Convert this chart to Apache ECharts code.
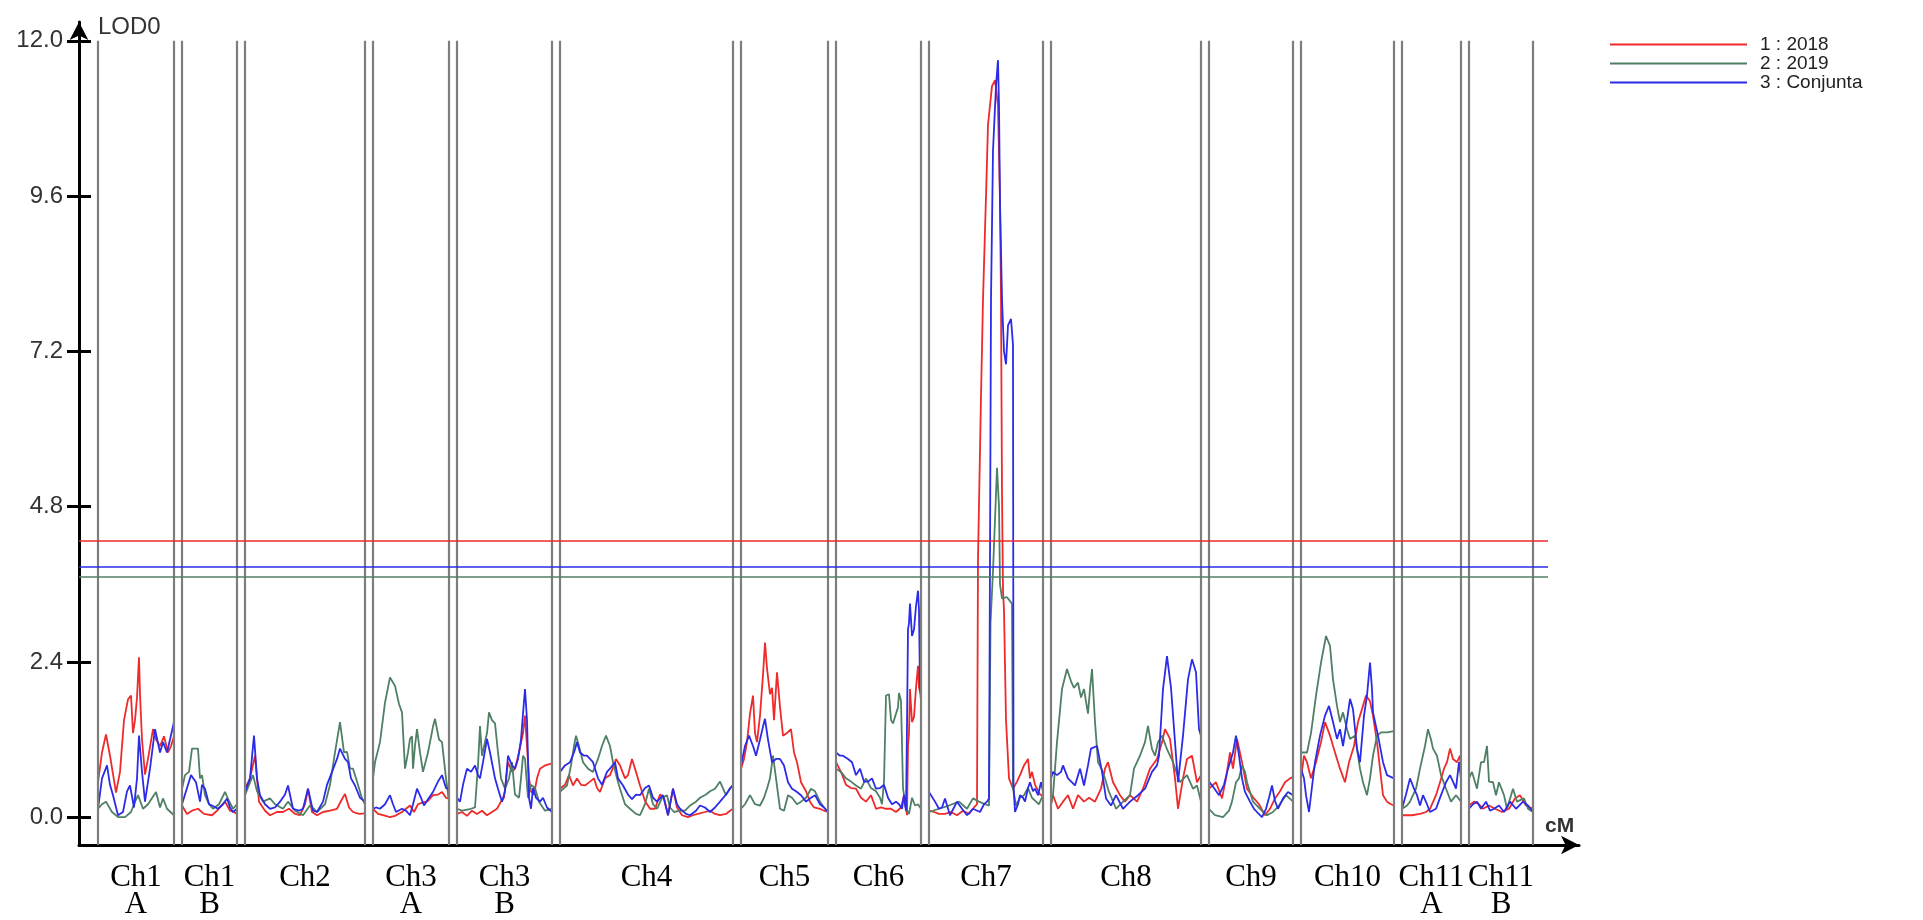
<!DOCTYPE html>
<html>
<head>
<meta charset="utf-8">
<script src="https://cdn.jsdelivr.net/npm/echarts@6/dist/echarts.min.js"></script>
<style>
  html, body { margin: 0; padding: 0; background: #fff; }
  #chart { width: 1923px; height: 920px; }
</style>
</head>
<body>
<div id="chart"></div>
<script>
// chromosomes (label, length in cM) laid out left to right with a small gap
var chrNames = ['Ch1\nA', 'Ch1\nB', 'Ch2', 'Ch3\nA', 'Ch3\nB', 'Ch4', 'Ch5', 'Ch6', 'Ch7', 'Ch8', 'Ch9', 'Ch10', 'Ch11\nA', 'Ch11\nB'];
var chrLengths = [76, 55, 120, 76, 95, 173, 87, 85, 114, 150, 84, 93, 59, 64];
var chrGap = 8;
var firstOffset = 19;

var yTicks = [0, 2.4, 4.8, 7.2, 9.6, 12.0];
var seriesNames = ['1 : 2018', '2 : 2019', '3 : Conjunta'];
var thresholds = [4.27, 3.71, 3.87];
var thresholdEnd = 1469;

// LOD profiles per chromosome, [cM within chromosome, LOD]
var lod2018 = [
    [[0,0.54],[4,1.0],[8,1.28],[12,0.95],[18,0.38],[22,0.7],[26,1.5],[30,1.82],[33,1.88],[35,1.3],[37,1.5],[39,1.85],[41,2.47],[42,1.9],[44,1.2],[47,0.66],[50,0.9],[55,1.36],[58,1.2],[62,1.1],[66,1.25],[70,1.0],[73,1.1],[76,1.25]],
    [[0,0.18],[5,0.05],[10,0.1],[16,0.13],[22,0.05],[30,0.03],[35,0.1],[43,0.24],[48,0.1],[52,0.08],[55,0.05]],
    [[0,0.44],[5,0.6],[10,0.95],[14,0.24],[20,0.1],[25,0.03],[32,0.08],[38,0.08],[44,0.13],[50,0.05],[55,0.03],[60,0.2],[63,0.44],[67,0.08],[72,0.03],[78,0.08],[85,0.1],[92,0.13],[96,0.25],[100,0.36],[104,0.15],[108,0.08],[114,0.05],[120,0.06]],
    [[0,0.13],[5,0.05],[10,0.03],[17,0],[22,0.02],[29,0.08],[37,0.18],[41,0.08],[45,0.2],[50,0.23],[55,0.25],[60,0.34],[65,0.35],[69,0.39],[73,0.3],[76,0.29]],
    [[0,0.05],[5,0.08],[10,0.02],[15,0.1],[20,0.05],[25,0.1],[30,0.03],[35,0.08],[40,0.13],[44,0.24],[47,0.3],[51,0.85],[55,0.7],[58,0.75],[62,1.0],[66,1.3],[68,1.57],[70,1.1],[72,0.6],[74,0.4],[77,0.35],[80,0.6],[83,0.75],[88,0.8],[95,0.83]],
    [[0,0.44],[5,0.5],[9,0.65],[13,0.49],[17,0.6],[21,0.5],[25,0.49],[30,0.55],[34,0.6],[37,0.45],[40,0.39],[45,0.6],[50,0.65],[54,0.8],[56,0.9],[60,0.8],[65,0.6],[68,0.65],[72,0.9],[76,0.7],[80,0.49],[85,0.25],[90,0.13],[95,0.13],[100,0.35],[104,0.3],[108,0.03],[113,0.44],[117,0.15],[122,0.03],[128,0.0],[133,0.03],[138,0.05],[145,0.08],[150,0.1],[155,0.05],[160,0.03],[166,0.05],[170,0.1],[173,0.13]],
    [[0,0.75],[3,0.9],[6,1.16],[9,1.6],[12,1.88],[14,1.3],[16,1.16],[19,1.57],[22,2.2],[24,2.7],[26,2.3],[29,1.9],[31,2.0],[33,1.5],[36,2.24],[39,1.7],[42,1.26],[46,1.3],[50,1.36],[53,1.0],[56,0.85],[60,0.54],[65,0.4],[69,0.24],[73,0.15],[79,0.13],[83,0.1],[87,0.08]],
    [[0,0.85],[5,0.7],[10,0.5],[15,0.45],[20,0.44],[25,0.3],[30,0.24],[35,0.34],[40,0.13],[45,0.15],[50,0.13],[55,0.13],[60,0.08],[65,0.15],[68,0.33],[71,0.03],[72,1.1],[73,1.3],[74,1.98],[76,1.47],[78,1.55],[80,2.0],[82,2.34],[83,2.0],[85,1.9]],
    [[0,0.1],[5,0.08],[10,0.05],[16,0.05],[22,0.08],[28,0.03],[34,0.1],[40,0.05],[45,0.15],[48,0.2],[49,4.0],[52,6.5],[54,8.0],[57,9.6],[59,10.7],[63,11.3],[66,11.39],[69,11.0],[71,9.5],[72,8.0],[73,5.0],[74,3.5],[75,3.2],[77,1.5],[80,0.6],[84,0.44],[88,0.55],[91,0.65],[95,0.8],[99,0.9],[101,0.6],[103,0.7],[106,0.5],[108,0.44],[111,0.35],[114,0.33]],
    [[0,0.2],[2,0.34],[7,0.13],[12,0.24],[17,0.34],[22,0.13],[27,0.34],[33,0.24],[38,0.3],[44,0.24],[50,0.44],[54,0.75],[57,0.85],[62,0.54],[69,0.34],[74,0.24],[79,0.34],[86,0.24],[92,0.44],[99,0.75],[106,0.9],[111,1.16],[114,1.36],[119,1.21],[124,0.6],[127,0.13],[132,0.6],[136,0.9],[141,0.95],[146,0.54],[150,0.65]],
    [[0,0.44],[7,0.54],[13,0.29],[17,0.6],[21,1.0],[24,0.75],[28,1.21],[33,0.85],[38,0.44],[45,0.29],[50,0.2],[56,0.03],[61,0.13],[66,0.29],[71,0.4],[76,0.54],[81,0.6],[84,0.62]],
    [[0,0.6],[3,0.95],[6,0.85],[10,0.6],[15,0.85],[20,1.16],[24,1.47],[29,1.26],[34,1.0],[39,0.75],[44,0.54],[48,0.85],[53,1.1],[57,1.47],[61,1.67],[65,1.88],[69,1.79],[72,1.57],[76,1.16],[79,0.75],[82,0.34],[86,0.24],[90,0.2],[93,0.18]],
    [[0,0.03],[10,0.03],[18,0.05],[24,0.08],[28,0.13],[34,0.34],[38,0.54],[42,0.75],[45,0.85],[48,1.06],[51,0.9],[55,0.85],[58,0.95],[59,0.75]],
    [[0,0.18],[5,0.24],[10,0.2],[14,0.13],[20,0.18],[26,0.13],[33,0.08],[40,0.13],[46,0.29],[51,0.34],[57,0.18],[64,0.13]]
];

var lod2019 = [
    [[0,0.13],[4,0.2],[8,0.24],[14,0.08],[20,0],[27,0],[33,0.08],[36,0.2],[40,0.34],[45,0.13],[50,0.2],[58,0.39],[62,0.15],[65,0.29],[69,0.13],[76,0.03]],
    [[0,0.44],[3,0.65],[7,0.7],[10,1.06],[16,1.06],[18,0.6],[20,0.65],[23,0.34],[27,0.2],[31,0.13],[37,0.2],[43,0.39],[47,0.25],[51,0.13],[55,0.2]],
    [[0,0.34],[4,0.5],[8,0.65],[12,0.4],[18,0.24],[25,0.29],[30,0.2],[38,0.13],[43,0.24],[50,0.1],[58,0.03],[65,0.18],[72,0.08],[80,0.2],[85,0.5],[90,1.0],[95,1.47],[99,1.0],[102,1.01],[105,0.75],[108,0.75],[112,0.55],[117,0.29],[120,0.2]],
    [[0,0.6],[2,0.85],[7,1.16],[12,1.77],[17,2.16],[22,2.03],[26,1.75],[29,1.62],[32,0.75],[35,1.0],[37,1.21],[39,1.25],[40,0.75],[42,1.1],[44,1.36],[47,1.0],[50,0.7],[55,1.0],[60,1.4],[62,1.52],[66,1.2],[69,1.16],[73,0.6],[76,0.24]],
    [[0,0.13],[5,0.1],[14,0.13],[18,0.15],[21,0.8],[23,1.41],[25,0.95],[27,0.95],[30,1.3],[32,1.62],[35,1.5],[38,1.45],[41,1.0],[44,0.6],[48,0.44],[52,0.6],[55,0.85],[58,0.35],[62,0.3],[64,0.6],[66,0.95],[68,0.9],[71,0.3],[74,0.5],[78,0.45],[82,0.24],[88,0.1],[95,0.13]],
    [[0,0.39],[4,0.45],[7,0.49],[11,0.8],[14,1.1],[16,1.26],[19,1.1],[23,0.85],[28,0.75],[33,0.7],[38,0.9],[42,1.1],[46,1.26],[50,1.1],[53,0.85],[57,0.6],[60,0.44],[65,0.2],[70,0.13],[76,0.05],[80,0.03],[85,0.2],[89,0.44],[93,0.2],[97,0.13],[102,0.3],[107,0.34],[110,0.15],[114,0.08],[120,0.1],[125,0.1],[130,0.18],[136,0.24],[140,0.3],[146,0.35],[150,0.4],[155,0.44],[160,0.55],[166,0.34],[170,0.45],[173,0.49]],
    [[0,0.13],[4,0.2],[9,0.34],[14,0.2],[19,0.18],[23,0.3],[26,0.44],[29,0.6],[32,0.95],[35,0.6],[39,0.13],[43,0.1],[47,0.34],[51,0.3],[56,0.2],[60,0.24],[65,0.3],[70,0.44],[74,0.4],[79,0.24],[83,0.15],[87,0.08]],
    [[0,0.75],[5,0.7],[10,0.6],[15,0.55],[20,0.49],[25,0.44],[30,0.6],[35,0.45],[40,0.4],[44,0.3],[46,0.2],[48,0.55],[50,1.88],[53,1.9],[55,1.5],[57,1.45],[59,1.47],[62,1.7],[63,1.92],[65,1.8],[67,0.45],[70,0.13],[73,0.05],[76,0.3],[79,0.18],[82,0.2],[85,0.13]],
    [[0,0.08],[10,0.13],[20,0.18],[30,0.24],[38,0.13],[44,0.29],[50,0.24],[56,0.2],[60,0.18],[61.5,3.0],[64,3.8],[66,4.6],[68,5.4],[70,4.8],[71,3.6],[73,3.38],[78,3.4],[83,3.3],[84,0.44],[87,0.18],[91,0.3],[95,0.34],[99,0.45],[103,0.3],[107,0.24],[110,0.2],[114,0.34]],
    [[0,0.2],[2,0.34],[6,1.16],[11,1.98],[16,2.29],[20,2.1],[23,2.0],[27,2.08],[30,1.85],[33,1.98],[37,1.6],[39,1.98],[41,2.29],[44,1.47],[47,0.85],[52,0.7],[58,0.39],[65,0.13],[72,0.24],[79,0.34],[83,0.75],[89,0.95],[94,1.16],[97,1.41],[101,1.05],[104,0.95],[107,1.16],[111,1.26],[116,1.05],[122,0.85],[129,0.54],[136,0.65],[142,0.44],[146,0.49],[150,0.24]],
    [[0,0.13],[6,0.03],[14,0.0],[20,0.1],[23,0.24],[27,0.54],[30,0.6],[33,0.8],[36,0.7],[38,0.54],[44,0.24],[51,0.13],[58,0.03],[64,0.08],[70,0.18],[77,0.34],[84,0.24]],
    [[0,1.0],[3,1.0],[6,1.0],[10,1.3],[15,1.88],[20,2.39],[25,2.8],[29,2.65],[32,2.13],[36,1.72],[39,1.47],[42,1.62],[46,1.36],[49,1.21],[54,1.26],[59,0.75],[62,0.54],[66,0.34],[69,0.6],[72,0.95],[76,1.26],[80,1.31],[86,1.31],[93,1.33]],
    [[0,0.13],[5,0.18],[8,0.24],[14,0.44],[18,0.75],[23,1.1],[26,1.36],[29,1.2],[31,1.06],[35,0.95],[39,0.65],[44,0.44],[49,0.24],[54,0.34],[59,0.24]],
    [[0,0.6],[3,0.7],[8,0.44],[12,0.85],[15,0.85],[18,1.1],[20,0.55],[24,0.54],[27,0.34],[30,0.54],[35,0.34],[38,0.13],[44,0.44],[48,0.24],[55,0.29],[59,0.13],[64,0.08]]
];

var lodConjunta = [
    [[0,0.13],[4,0.6],[9,0.8],[12,0.5],[15,0.34],[20,0.03],[25,0.08],[29,0.4],[32,0.49],[36,0.15],[39,0.6],[41,1.26],[44,0.7],[47,0.24],[52,0.75],[57,1.36],[62,1.0],[65,1.16],[69,1.0],[72,1.2],[76,1.47]],
    [[0,0.2],[4,0.4],[9,0.65],[14,0.54],[18,0.24],[20,0.5],[23,0.44],[27,0.2],[30,0.18],[36,0.13],[41,0.2],[45,0.29],[48,0.15],[51,0.08],[55,0.13]],
    [[0,0.39],[5,0.6],[9,1.26],[12,0.6],[15,0.34],[20,0.2],[25,0.13],[30,0.15],[35,0.24],[40,0.35],[43,0.49],[48,0.13],[54,0.1],[58,0.13],[63,0.44],[68,0.1],[72,0.08],[78,0.24],[82,0.5],[87,0.7],[92,0.9],[95,1.06],[100,0.9],[103,0.85],[106,0.6],[110,0.49],[115,0.3],[120,0.24]],
    [[0,0.13],[3,0.15],[7,0.13],[12,0.2],[17,0.34],[20,0.2],[23,0.08],[29,0.13],[33,0.1],[37,0.03],[40,0.2],[44,0.44],[48,0.3],[51,0.18],[56,0.3],[60,0.39],[65,0.55],[69,0.65],[73,0.45],[76,0.44]],
    [[0,0.3],[3,0.24],[6,0.5],[10,0.75],[14,0.7],[18,0.8],[21,0.65],[23,0.6],[26,0.85],[30,1.21],[33,1.0],[35,1.0],[38,0.6],[41,0.44],[45,0.24],[48,0.4],[51,0.95],[55,0.8],[58,0.75],[61,0.9],[64,1.2],[66,1.6],[68,1.98],[70,1.5],[72,0.3],[74,0.13],[76,0.45],[79,0.3],[83,0.24],[86,0.3],[90,0.15],[95,0.08]],
    [[0,0.7],[5,0.8],[10,0.85],[14,1.0],[17,1.16],[20,1.0],[24,0.95],[27,0.95],[33,0.85],[38,0.6],[42,0.5],[47,0.7],[50,0.75],[55,0.85],[58,0.6],[63,0.49],[68,0.35],[72,0.28],[76,0.35],[80,0.34],[85,0.45],[89,0.49],[93,0.3],[97,0.24],[103,0.34],[108,0.03],[113,0.44],[117,0.2],[120,0.13],[126,0.05],[130,0.03],[136,0.1],[140,0.18],[145,0.15],[150,0.08],[155,0.15],[160,0.24],[166,0.35],[170,0.44],[173,0.5]],
    [[0,0.8],[4,1.1],[8,1.26],[12,1.1],[15,0.95],[19,1.2],[22,1.4],[24,1.52],[27,1.2],[31,0.85],[35,0.9],[39,0.9],[43,0.8],[47,0.54],[51,0.44],[55,0.4],[60,0.34],[65,0.24],[70,0.3],[74,0.34],[79,0.2],[83,0.15],[87,0.08]],
    [[0,1.0],[4,0.95],[7,0.95],[12,0.9],[16,0.85],[20,0.65],[24,0.75],[28,0.55],[32,0.55],[36,0.6],[40,0.44],[44,0.45],[48,0.5],[52,0.3],[56,0.2],[60,0.24],[63,0.2],[66,0.13],[68,0.35],[69,0.2],[70,0.1],[71,1.4],[72,2.9],[73,3.0],[74,3.3],[76,2.8],[78,2.9],[80,3.26],[82,3.5],[83,3.2],[84,2.0],[85,1.8]],
    [[0,0.39],[6,0.24],[10,0.13],[13,0.15],[16,0.29],[21,0.03],[25,0.15],[28,0.24],[33,0.13],[38,0.03],[44,0.13],[51,0.08],[55,0.2],[58,0.24],[60,0.29],[61,4.0],[62,8.0],[64,10.3],[67,11.3],[69,11.7],[70,11.0],[71,9.5],[73,8.0],[75,7.2],[77,7.0],[79,7.6],[82,7.7],[84,7.3],[84.5,0.5],[86,0.08],[89,0.2],[91,0.34],[94,0.3],[96,0.24],[99,0.45],[101,0.54],[104,0.4],[106,0.44],[109,0.34],[112,0.54],[114,0.4]],
    [[0,0.6],[2,0.7],[6,0.65],[10,0.7],[12,0.8],[17,0.6],[24,0.49],[29,0.75],[33,0.49],[37,0.8],[40,1.06],[46,1.1],[51,0.7],[55,0.29],[60,0.18],[65,0.34],[72,0.13],[79,0.24],[87,0.34],[94,0.44],[101,0.7],[106,0.8],[108,0.95],[112,1.98],[116,2.49],[120,2.0],[124,1.16],[127,0.54],[132,1.26],[137,2.13],[141,2.44],[145,2.24],[148,1.36],[150,1.26]],
    [[0,0.55],[5,0.45],[10,0.34],[15,0.5],[19,0.75],[21,0.85],[24,1.0],[27,1.26],[30,0.95],[33,0.6],[36,0.39],[41,0.24],[45,0.13],[48,0.08],[53,0.0],[57,0.13],[60,0.3],[63,0.49],[66,0.25],[69,0.13],[74,0.29],[79,0.39],[84,0.34]],
    [[0,0.75],[3,0.6],[5,0.34],[8,0.08],[12,0.6],[14,0.85],[19,1.26],[24,1.57],[28,1.72],[32,1.47],[36,1.21],[39,1.36],[42,1.1],[46,1.5],[49,1.83],[52,1.67],[56,1.06],[59,0.85],[63,1.57],[66,1.88],[69,2.39],[71,1.98],[72,1.62],[77,1.26],[82,0.85],[86,0.65],[93,0.6]],
    [[0,0.13],[4,0.35],[8,0.6],[12,0.44],[15,0.34],[18,0.18],[21,0.34],[25,0.2],[28,0.08],[34,0.13],[39,0.34],[44,0.54],[48,0.65],[51,0.55],[54,0.44],[57,0.85],[59,0.6]],
    [[0,0.13],[4,0.2],[8,0.24],[12,0.13],[17,0.24],[21,0.1],[25,0.13],[30,0.18],[35,0.08],[41,0.24],[47,0.13],[54,0.24],[59,0.18],[64,0.08]]
];

var colors = ['#ef2a2a', '#4f7f64', '#2b2be8'];

// axis ranges matched to the original plot frame
var yMin = -0.43, yMax = 12.29;
var xMax = 1500;

// where each chromosome starts on the common axis
var chrStarts = [];
var pos = firstOffset;
chrLengths.forEach(function (len) {
    chrStarts.push(pos);
    pos += len + chrGap;
});
var chrCenters = chrStarts.map(function (s, i) { return s + chrLengths[i] / 2; });

function toAxis(chrData) {
    var out = [];
    chrData.forEach(function (pts, c) {
        pts.forEach(function (p) {
            out.push([chrStarts[c] + p[0], p[1]]);
        });
        // break the curve between chromosomes
        out.push([chrStarts[c] + chrLengths[c] + chrGap / 2, '-']);
    });
    return out;
}

// double grey lines at chromosome edges
var edgeLines = [];
chrStarts.forEach(function (s, i) {
    [s, s + chrLengths[i]].forEach(function (x) {
        edgeLines.push([{ coord: [x, yMin] }, { coord: [x, 12] }]);
    });
});

var myChart = echarts.init(document.getElementById('chart'));

var allData = [lod2018, lod2019, lodConjunta];
var series = [{
    type: 'line',
    data: [],
    silent: true,
    markLine: {
        silent: true,
        symbol: ['none', 'none'],
        label: { show: false },
        animation: false,
        lineStyle: { color: '#7d7d7d', width: 2.2, type: 'solid' },
        data: edgeLines
    }
}];
seriesNames.forEach(function (name, i) {
    series.push({
        name: name,
        type: 'line',
        data: toAxis(allData[i]),
        showSymbol: false,
        symbol: 'none',
        connectNulls: false,
        itemStyle: { color: colors[i] },
        lineStyle: { color: colors[i], width: 1.8 },
        markLine: {
            silent: true,
            symbol: ['none', 'none'],
            label: { show: false },
            animation: false,
            lineStyle: { color: colors[i], width: 1.6, type: 'solid' },
            data: [[{ coord: [0, thresholds[i]] }, { coord: [thresholdEnd, thresholds[i]] }]]
        }
    });
});

var option = {
    animation: false,
    backgroundColor: '#fff',
    grid: {
        left: 79,
        right: 1923 - 79 - xMax,
        top: 22,
        bottom: 69,
        containLabel: false
    },
    legend: {
        orient: 'vertical',
        left: 1605,
        top: 30,
        icon: 'rect',
        itemWidth: 137,
        itemHeight: 2,
        itemGap: 0,
        textStyle: {
            fontFamily: 'Liberation Sans, Arial, sans-serif',
            fontSize: 19,
            color: '#222',
            lineHeight: 16,
            padding: [0, 0, 0, 8]
        },
        data: seriesNames
    },
    xAxis: {
        type: 'value',
        min: 0,
        max: xMax,
        name: 'cM',
        nameLocation: 'end',
        nameGap: -34,
        nameTextStyle: {
            fontFamily: 'Liberation Sans, Arial, sans-serif',
            fontSize: 21,
            fontWeight: 'bold',
            color: '#333',
            align: 'left',
            verticalAlign: 'bottom',
            padding: [0, 0, 8, 0]
        },
        axisLine: {
            onZero: false,
            lineStyle: { color: '#000', width: 3 },
            symbol: ['none', 'arrow'],
            symbolSize: [14, 18]
        },
        axisTick: { show: false },
        splitLine: { show: false },
        axisLabel: {
            customValues: chrCenters,
            formatter: function (val) {
                var best = 0;
                chrCenters.forEach(function (c, i) {
                    if (Math.abs(c - val) < Math.abs(chrCenters[best] - val)) best = i;
                });
                return chrNames[best];
            },
            fontFamily: 'Liberation Serif, Times New Roman, serif',
            fontSize: 31,
            lineHeight: 27,
            color: '#000',
            margin: 19
        }
    },
    yAxis: [{
        type: 'value',
        min: yMin,
        max: yMax,
        name: 'LOD0',
        nameLocation: 'end',
        nameGap: -5,
        nameTextStyle: {
            fontFamily: 'Liberation Sans, Arial, sans-serif',
            fontSize: 24,
            color: '#333',
            align: 'left',
            verticalAlign: 'middle',
            padding: [0, 0, 0, 19]
        },
        axisLine: {
            onZero: false,
            lineStyle: { color: '#000', width: 3 },
            symbol: ['none', 'arrow'],
            symbolSize: [14, 18]
        },
        axisTick: {
            show: true,
            length: 12,
            customValues: yTicks,
            lineStyle: { color: '#000', width: 3 }
        },
        axisLabel: {
            customValues: yTicks,
            formatter: function (v) { return v.toFixed(1); },
            fontFamily: 'Liberation Sans, Arial, sans-serif',
            fontSize: 24,
            color: '#333',
            margin: 16
        },
        splitLine: { show: false }
    }, {
        // inner half of the cross ticks
        type: 'value',
        min: yMin,
        max: yMax,
        position: 'left',
        axisLine: { show: false, onZero: false },
        axisTick: {
            show: true,
            inside: true,
            length: 12,
            customValues: yTicks,
            lineStyle: { color: '#000', width: 3 }
        },
        axisLabel: { show: false },
        splitLine: { show: false }
    }],
    series: series
};

myChart.setOption(option, true);
</script>
</body>
</html>
